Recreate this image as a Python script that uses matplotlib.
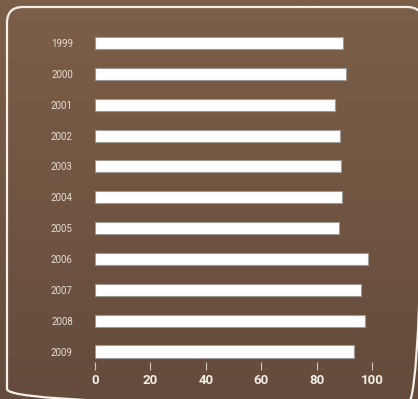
import numpy as np
import matplotlib
matplotlib.use('Agg')
import matplotlib.pyplot as plt
from matplotlib.patches import FancyBboxPatch

years = ['1999', '2000', '2001', '2002', '2003', '2004', '2005', '2006', '2007', '2008', '2009']
values = [89.4, 90.5, 86.6, 88.3, 88.8, 89.0, 88.0, 98.4, 96.0, 97.5, 93.4]
x_ticks = [0, 20, 40, 60, 80, 100]

W, H = 418, 399
fig = plt.figure(figsize=(W / 100, H / 100), dpi=100)
top = np.array([0x7c, 0x5f, 0x48]) / 255
bot = np.array([0x64, 0x4b, 0x3b]) / 255
fig.patch.set_facecolor((top + bot) / 2)

# background gradient, in pixel coordinates
bg = fig.add_axes([0, 0, 1, 1], zorder=0)
t = np.linspace(0, 1, 256)[:, None]
grad = (top[None, :] * (1 - t) + bot[None, :] * t)[:, None, :]
bg.imshow(grad, aspect='auto', extent=[0, W, H, 0], interpolation='bilinear')
bg.set_xlim(0, W)
bg.set_ylim(H, 0)
bg.axis('off')

# rounded frame (runs off the right and bottom edges)
frame = FancyBboxPatch((7, 7), 416, 398,
                       boxstyle='round,pad=0,rounding_size=16',
                       facecolor='none', edgecolor='#f4efe9', linewidth=1.6,
                       clip_on=False)
bg.add_patch(frame)

ax = fig.add_axes([95 / W, 1 - 362 / H, 277 / W, 334.4 / H], zorder=2)
ax.patch.set_alpha(0)
pos = np.arange(len(years))
ax.barh(pos, values, height=0.39, color='white', edgecolor='#a09a96', linewidth=0.8)
ax.set_xlim(0, 100)
ax.set_ylim(10.34, -0.5)
ax.set_yticks(pos)
ax.set_yticklabels(years, fontsize=7, color='#e6ddd4', family='Roboto')
ax.set_xticks(x_ticks)
ax.set_xticklabels([str(v) for v in x_ticks], fontsize=9.5, fontweight='bold',
                   color='#f4efe9', family='Roboto')
ax.tick_params(axis='y', length=0, pad=16)
ax.tick_params(axis='x', length=6, width=0.8, color='#cfc6bd', pad=3)
for s in ax.spines.values():
    s.set_visible(False)

fig.savefig('out.png', dpi=100)
